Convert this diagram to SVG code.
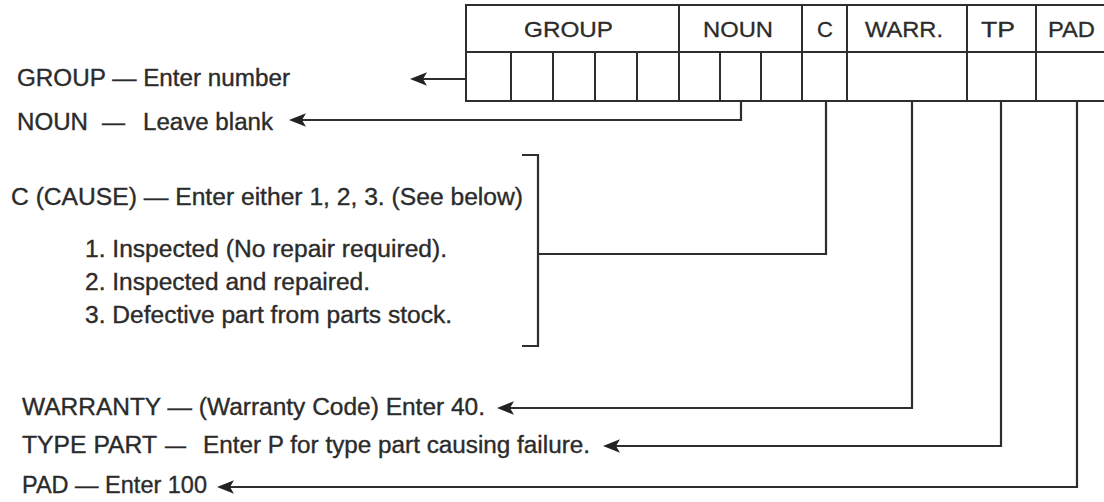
<svg xmlns="http://www.w3.org/2000/svg" width="1104" height="502" viewBox="0 0 1104 502">
  <style>
    .ln { fill: none; stroke: #2e2e2e; stroke-width: 2; stroke-linecap: square; }
    .cn { fill: none; stroke: #2e2e2e; stroke-width: 2.2; }
    .t { font-family: "Liberation Sans", Arial, Helvetica, sans-serif; font-size: 23px; fill: #2b2b2b; stroke: #2b2b2b; stroke-width: 0.35; }
    .h { font-family: "Liberation Sans", Arial, Helvetica, sans-serif; font-size: 22px; fill: #2b2b2b; stroke: #2b2b2b; stroke-width: 0.3; text-anchor: middle; }
  </style>
  <defs>
    <marker id="arr" markerUnits="userSpaceOnUse" viewBox="0 -8 19 16" markerWidth="19" markerHeight="16" refX="4" refY="0" orient="auto">
      <path d="M17,0 L0,-6.8 L4,0 L0,6.8 Z" fill="#222"/>
    </marker>
  </defs>
  <rect width="1104" height="502" fill="#ffffff"/>

  <g id="form-table">
    <path class="ln" d="M1110,5 H466 V101 H1110 M466,52 H1110"/>
    <path class="ln" d="M679,5 V101 M802,5 V101 M847,5 V101 M967,5 V101 M1036,5 V101"/>
    <path class="ln" d="M511,52 V101 M553,52 V101 M595,52 V101 M637,52 V101 M720,52 V101 M761,52 V101"/>
    <text class="h" x="568.5" y="37" textLength="89" lengthAdjust="spacingAndGlyphs">GROUP</text>
    <text class="h" x="738" y="37" textLength="70" lengthAdjust="spacingAndGlyphs">NOUN</text>
    <text class="h" x="825" y="37">C</text>
    <text class="h" x="904" y="37" textLength="78" lengthAdjust="spacingAndGlyphs">WARR.</text>
    <text class="h" x="998" y="37" textLength="34" lengthAdjust="spacingAndGlyphs">TP</text>
    <text class="h" x="1071.5" y="37" textLength="47" lengthAdjust="spacingAndGlyphs">PAD</text>
  </g>

  <g id="label-group">
    <text class="t" x="17" y="86" textLength="273" lengthAdjust="spacingAndGlyphs">GROUP — Enter number</text>
  </g>
  <g id="label-noun">
    <text class="t" x="17" y="129.5" textLength="71" lengthAdjust="spacingAndGlyphs">NOUN</text>
    <text class="t" x="102" y="129.5" textLength="23" lengthAdjust="spacingAndGlyphs">—</text>
    <text class="t" x="143" y="129.5" textLength="130" lengthAdjust="spacingAndGlyphs">Leave blank</text>
  </g>
  <g id="label-cause">
    <text class="t" x="11" y="205" textLength="512" lengthAdjust="spacingAndGlyphs">C (CAUSE) — Enter either 1, 2, 3. (See below)</text>
    <text class="t" x="85" y="257" textLength="362" lengthAdjust="spacingAndGlyphs">1. Inspected (No repair required).</text>
    <text class="t" x="85" y="290" textLength="285" lengthAdjust="spacingAndGlyphs">2. Inspected and repaired.</text>
    <text class="t" x="85" y="323" textLength="367" lengthAdjust="spacingAndGlyphs">3. Defective part from parts stock.</text>
  </g>
  <g id="label-warranty">
    <text class="t" x="22" y="415" textLength="463" lengthAdjust="spacingAndGlyphs">WARRANTY — (Warranty Code) Enter 40.</text>
  </g>
  <g id="label-typepart">
    <text class="t" x="22" y="453" textLength="135" lengthAdjust="spacingAndGlyphs">TYPE PART</text>
    <text class="t" x="165" y="453" textLength="21" lengthAdjust="spacingAndGlyphs">—</text>
    <text class="t" x="203" y="453" textLength="387" lengthAdjust="spacingAndGlyphs">Enter P for type part causing failure.</text>
  </g>
  <g id="label-pad">
    <text class="t" x="22" y="493" textLength="185" lengthAdjust="spacingAndGlyphs">PAD — Enter 100</text>
  </g>

  <g id="connectors">
    <path class="cn" d="M466,79 H423" marker-end="url(#arr)"/>
    <path class="cn" d="M741,101 V120 H302" marker-end="url(#arr)"/>
    <path class="cn" d="M826,101 V254 H538"/>
    <path class="cn" d="M522,155 H538 V346 H522"/>
    <path class="cn" d="M912,101 V408 H510" marker-end="url(#arr)"/>
    <path class="cn" d="M1001,101 V446 H616" marker-end="url(#arr)"/>
    <path class="cn" d="M1077,101 V487 H230" marker-end="url(#arr)"/>
  </g>
</svg>
